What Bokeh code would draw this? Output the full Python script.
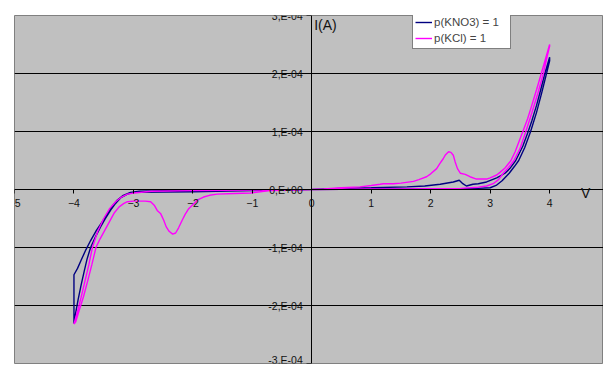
import numpy as np
from bokeh.plotting import figure
from bokeh.models import Range1d, FixedTicker, Label, Legend, LegendItem
from bokeh.embed import file_html
from bokeh.resources import INLINE

# ---- data (current in units of 1E-4 A) ----
x_ticks = [-5, -4, -3, -2, -1, 0, 1, 2, 3, 4]
y_ticks = [-3e-4, -2e-4, -1e-4, 0.0, 1e-4, 2e-4, 3e-4]
y_tick_labels = ["-3,E-04", "-2,E-04", "-1,E-04", "0,E+00", "1,E-04", "2,E-04", "3,E-04"]
grid_ticks = [-2e-4, -1e-4, 1e-4, 2e-4]

series_names = ["p(KNO3) = 1", "p(KCl) = 1"]

kno3_v = [0, 0.5, 1.0, 1.5, 2.0, 2.5, 2.8, 3.0, 3.1, 3.2, 3.32, 3.41, 3.48, 3.58, 3.68, 3.78, 3.87, 3.96, 4.0,
          4.0, 3.92, 3.85, 3.78, 3.7, 3.64, 3.55, 3.43, 3.33, 3.25, 3.11, 2.94, 2.8, 2.71, 2.6, 2.54,
          2.48, 2.38, 2.16, 1.9, 1.6, 1.0, 0.5, 0,
          -0.5, -1.0, -2.0, -2.5, -2.99, -3.1, -3.21, -3.3, -3.38, -3.47, -3.55, -3.63, -3.72, -3.78,
          -3.83, -3.88, -3.93, -3.97, -4.0,
          -4.0, -3.94, -3.88, -3.80, -3.72, -3.62, -3.52, -3.44, -3.35, -3.27, -3.17, -3.05, -2.9,
          -2.5, -1.5, 0]
kno3_i = [0, 0.005, 0.008, 0.01, 0.01, 0.015, 0.02, 0.03, 0.07, 0.15, 0.28, 0.4, 0.5, 0.72, 1.0, 1.33, 1.68, 2.05, 2.22,
          2.28, 2.0, 1.72, 1.45, 1.18, 1.0, 0.75, 0.5, 0.36, 0.28, 0.2, 0.13, 0.1, 0.09, 0.06, 0.1,
          0.16, 0.13, 0.09, 0.06, 0.045, 0.03, 0.02, 0,
          -0.01, -0.02, -0.04, -0.045, -0.05, -0.08, -0.14, -0.24, -0.35, -0.5, -0.64, -0.8, -1.0, -1.2,
          -1.42, -1.65, -1.9, -2.12, -2.31,
          -1.47, -1.36, -1.22, -1.04, -0.88, -0.7, -0.55, -0.42, -0.28, -0.18, -0.1, -0.05, -0.03,
          -0.02, -0.01, 0]

kcl_v = [0, 0.5, 1.0, 1.5, 2.0, 2.5, 2.8, 2.94, 3.05, 3.14, 3.22, 3.31, 3.40, 3.5, 3.6, 3.7,
         3.8, 3.9, 3.96, 4.0,
         4.0, 3.93, 3.86, 3.78, 3.7, 3.63, 3.55, 3.49, 3.42, 3.35, 3.25, 3.17, 3.11, 3.0, 2.94, 2.77,
         2.66, 2.58, 2.5, 2.45, 2.41, 2.38, 2.34, 2.30, 2.25, 2.21, 2.15, 2.10, 2.0, 1.93, 1.8, 1.71,
         1.5, 1.37, 1.2, 1.15, 1.0, 0.81, 0.5, 0.2, 0,
         -0.3, -0.7, -1.03, -1.3, -1.59, -1.72, -1.82, -1.92, -1.98, -2.07, -2.13, -2.18, -2.24,
         -2.29, -2.34, -2.4, -2.45, -2.49, -2.54, -2.6, -2.65, -2.71, -2.8, -3.0, -3.1, -3.16, -3.24,
         -3.32, -3.40, -3.48, -3.56, -3.63, -3.7, -3.77, -3.84, -3.91, -3.97, -4.0,
         -3.94, -3.88, -3.82, -3.75, -3.69, -3.6, -3.5, -3.4, -3.3, -3.2, -3.1, -2.99, -2.7, -2.0,
         -1.0, 0]
kcl_i = [0, 0.005, 0.01, 0.01, 0.015, 0.02, 0.04, 0.06, 0.1, 0.17, 0.28, 0.38, 0.5, 0.7, 1.0, 1.32,
         1.65, 2.02, 2.3, 2.47,
         2.5, 2.25, 2.0, 1.72, 1.45, 1.22, 1.0, 0.84, 0.65, 0.5, 0.37, 0.3, 0.25, 0.2, 0.18, 0.18,
         0.22, 0.26, 0.28, 0.36, 0.48, 0.59, 0.64, 0.65, 0.6, 0.53, 0.44, 0.36, 0.27, 0.22, 0.17, 0.14,
         0.11, 0.10, 0.10, 0.09, 0.07, 0.045, 0.03, 0.01, 0,
         -0.01, -0.02, -0.06, -0.07, -0.08, -0.1, -0.13, -0.18, -0.24, -0.33, -0.43, -0.53, -0.66,
         -0.75, -0.77, -0.72, -0.64, -0.53, -0.42, -0.36, -0.27, -0.21, -0.2, -0.2, -0.21, -0.24, -0.3,
         -0.4, -0.55, -0.7, -0.85, -1.0, -1.3, -1.58, -1.85, -2.08, -2.28, -2.32,
         -2.1, -1.86, -1.6, -1.3, -1.0, -0.72, -0.5, -0.33, -0.21, -0.13, -0.08, -0.06, -0.03, -0.02,
         -0.01, 0]

UNIT = 1e-4  # current values above are in 1E-4 A

FONT = "Liberation Sans"

p = figure(width=603, height=365,
           x_range=Range1d(-5, 4.906), y_range=Range1d(-3e-4, 3e-4),
           output_backend="svg", toolbar_location=None,
           min_border_left=14, min_border_top=15, min_border_right=0, min_border_bottom=2,
           background_fill_color="#C0C0C0", border_fill_color="white",
           outline_line_color="#808080", outline_line_width=1)

r1 = p.line(kno3_v, np.array(kno3_i) * UNIT, line_color="#000080", line_width=1.4)
r2 = p.line(kcl_v, np.array(kcl_i) * UNIT, line_color="#FF00FF", line_width=1.4)

# axes crossing at origin
for ax in (p.xaxis[0], p.yaxis[0]):
    ax.fixed_location = 0
    ax.axis_line_color = "black"
    ax.major_tick_line_color = "black"
    ax.minor_tick_line_color = None
    ax.major_tick_in = 0
    ax.major_label_text_font = FONT
    ax.major_label_text_font_size = "10.5px"
    ax.major_label_text_color = "#111111"

p.xaxis[0].ticker = FixedTicker(ticks=x_ticks)
p.xaxis[0].major_tick_out = 4
p.xaxis[0].major_label_standoff = 5

p.yaxis[0].ticker = FixedTicker(ticks=y_ticks)
p.yaxis[0].major_label_overrides = {t: s for t, s in zip(y_ticks, y_tick_labels)}
p.yaxis[0].major_tick_out = 5
p.yaxis[0].major_label_standoff = 4

p.xgrid.visible = False
p.ygrid.ticker = FixedTicker(ticks=grid_ticks)
p.ygrid.grid_line_color = "black"
p.ygrid.grid_line_width = 1

p.add_layout(Label(x=0.04, y=2.828e-4, text="I(A)", text_font=FONT,
                   text_font_size="14px", text_color="#111111", text_baseline="alphabetic"))
p.add_layout(Label(x=4.606, y=-0.064e-4, text="V", text_font=FONT,
                   text_font_size="14px", text_color="#111111", text_align="center",
                   text_baseline="alphabetic"))

legend = Legend(items=[LegendItem(label=series_names[0], renderers=[r1]),
                       LegendItem(label=series_names[1], renderers=[r2])],
                location=(398, 314), orientation="vertical",
                label_text_font=FONT, label_text_font_size="11.5px",
                glyph_width=17, glyph_height=16, label_height=16, label_width=74,
                label_standoff=2, spacing=0, padding=2, margin=0,
                border_line_color="black", border_line_width=1,
                background_fill_color="white", background_fill_alpha=1.0)
p.add_layout(legend)

open("out.html", "w").write(file_html(p, INLINE))
